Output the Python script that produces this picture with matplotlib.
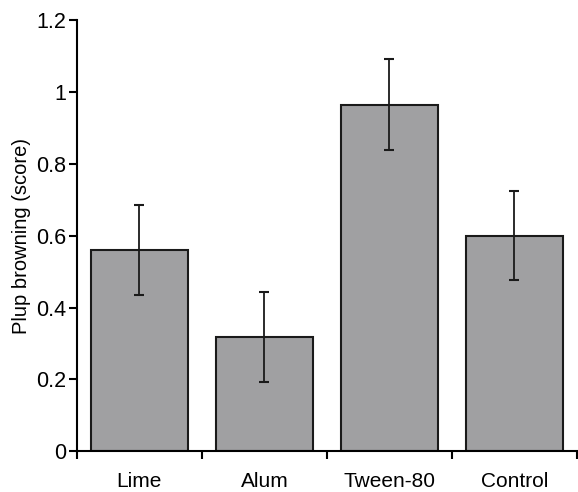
import numpy as np
import matplotlib
matplotlib.use('Agg')
import matplotlib.pyplot as plt

plt.rcParams['font.family'] = ['Liberation Sans', 'DejaVu Sans']

treatments = ['Lime', 'Alum', 'Tween-80', 'Control']
browning = [0.56, 0.318, 0.965, 0.60]
errors = [0.125, 0.125, 0.127, 0.123]

fig = plt.figure(figsize=(5.78, 4.92), dpi=100)
ax = fig.add_axes([0.133, 0.083, 0.865, 0.876])

x = np.arange(len(treatments))
ax.bar(x, browning, width=0.78, color='#a0a0a2', edgecolor='#1a1a1a', linewidth=1.5, zorder=2)
ax.errorbar(x, browning, yerr=errors, fmt='none', ecolor='#1a1a1a', elinewidth=1.3,
            capsize=3.5, capthick=1.5, zorder=3)

ax.set_xlim(-0.5, 3.5)
ax.set_ylim(0, 1.2)
ax.set_yticks([0, 0.2, 0.4, 0.6, 0.8, 1.0, 1.2])
ax.set_yticklabels(['0', '0.2', '0.4', '0.6', '0.8', '1', '1.2'], fontsize=15.5)

# category ticks sit between the bars, labels centred under them
ax.set_xticks(np.arange(-0.5, 4.0, 1.0))
ax.set_xticklabels([])
ax.set_xticks(x, minor=True)
ax.set_xticklabels(treatments, minor=True, fontsize=15)
ax.tick_params(axis='x', which='minor', length=0, pad=15)
ax.tick_params(axis='x', which='major', length=6, width=1.5, direction='out')
ax.tick_params(axis='y', length=6, width=1.5, direction='out', pad=1.5)

ax.spines['top'].set_visible(False)
ax.spines['right'].set_visible(False)
ax.spines['left'].set_linewidth(1.5)
ax.spines['bottom'].set_linewidth(1.5)

ax.set_ylabel('Plup browning (score)', fontsize=14.5, labelpad=4)

fig.savefig('out.png', dpi=100)
